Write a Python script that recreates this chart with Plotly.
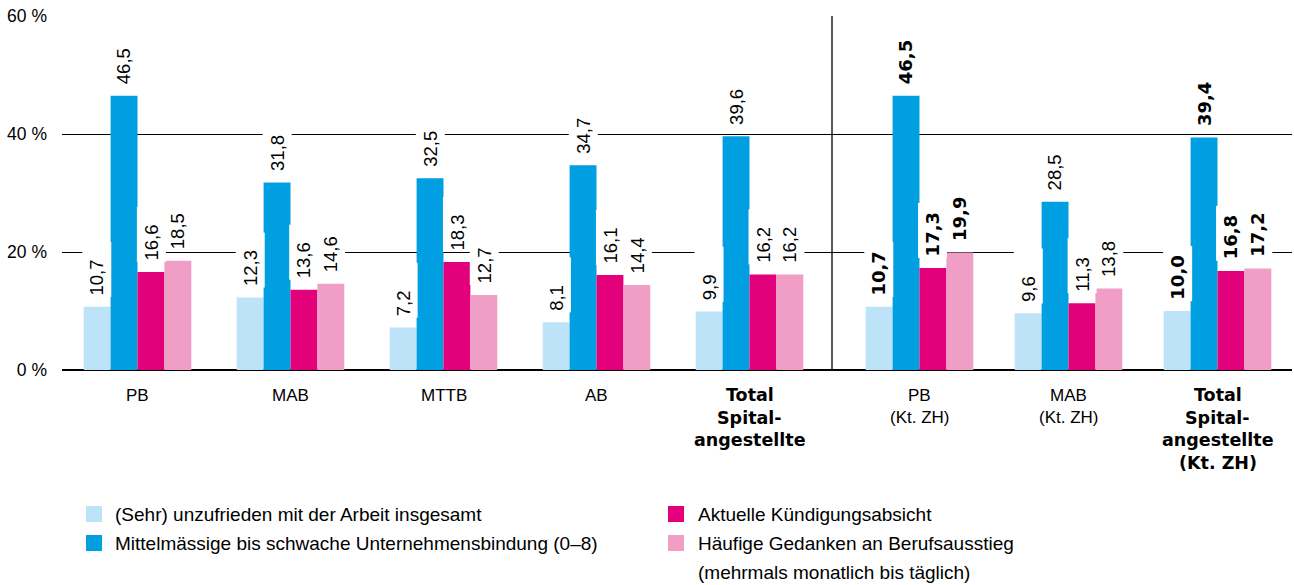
import plotly.graph_objects as go

# ---------------- data ----------------
categories = [
    ["PB"],
    ["MAB"],
    ["MTTB"],
    ["AB"],
    ["Total", "Spital-", "angestellte"],
    ["PB", "(Kt. ZH)"],
    ["MAB", "(Kt. ZH)"],
    ["Total", "Spital-", "angestellte", "(Kt. ZH)"],
]
category_bold = [False, False, False, False, True, False, False, True]
value_bold = [False, False, False, False, False, True, False, True]

series_names = [
    ["(Sehr) unzufrieden mit der Arbeit insgesamt"],
    ["Mittelmässige bis schwache Unternehmensbindung (0–8)"],
    ["Aktuelle Kündigungsabsicht"],
    ["Häufige Gedanken an Berufsausstieg", "(mehrmals monatlich bis täglich)"],
]
unzufrieden = [10.7, 12.3, 7.2, 8.1, 9.9, 10.7, 9.6, 10.0]
bindung = [46.5, 31.8, 32.5, 34.7, 39.6, 46.5, 28.5, 39.4]
kuendigung = [16.6, 13.6, 18.3, 16.1, 16.2, 17.3, 11.3, 16.8]
ausstieg = [18.5, 14.6, 12.7, 14.4, 16.2, 19.9, 13.8, 17.2]
series_values = [unzufrieden, bindung, kuendigung, ausstieg]

y_tickvals = [0, 20, 40, 60]
y_ticktext = ["0 %", "20 %", "40 %", "60 %"]

# ---------------- style ----------------
colors = ["#BDE3F8", "#009FE1", "#E3007B", "#F09EC5"]
FONT = "Liberation Sans, Arial, sans-serif"
BOLD_FONT = "DejaVu Sans, Liberation Sans, sans-serif"
W, H = 1294, 585
ML, MR, MT, MB = 62, 2, 15, 215
Y_TOP = 60.17

# group layout (units of one group step in the first section)
n_first = 5
step_a = 1.0
section_gap = 170 / 153
step_b = 149 / 153
bar_w = 26.9 / 153

positions = []
for i in range(len(categories)):
    if i < n_first:
        positions.append(i * step_a)
    else:
        positions.append((n_first - 1) * step_a + section_gap + (i - n_first) * step_b)
separator_x = positions[n_first - 1] + 82.5 / 153
x_range = [-75.5 / 153, (W - MR - ML - 75.5) / 153]

fig = go.Figure()
n_series = len(series_values)
for k, vals in enumerate(series_values):
    fig.add_trace(go.Bar(
        x=positions, y=vals,
        width=bar_w, offset=(k - n_series / 2) * bar_w,
        marker=dict(color=colors[k], line=dict(width=0)),
        name=" ".join(series_names[k]), showlegend=False,
        hoverinfo="skip",
    ))

annotations = []
# value labels
for k, vals in enumerate(series_values):
    for i, v in enumerate(vals):
        txt = f"{v:.1f}".replace(".", ",")
        if value_bold[i]:
            txt = f"<b>{txt}</b>"
            fnt = dict(family=BOLD_FONT, size=18, color="black")
        else:
            fnt = dict(family=FONT, size=18.5, color="black")
        annotations.append(dict(
            x=positions[i] + (k - n_series / 2 + 0.5) * bar_w, y=v,
            xref="x", yref="y", text=txt, showarrow=False,
            textangle=-90, xanchor="center", yanchor="bottom", yshift=9.5,
            width=52, height=26, align="left", bgcolor="white", borderpad=1,
            font=fnt,
        ))

# category labels
for i, lines in enumerate(categories):
    for j, line in enumerate(lines):
        if category_bold[i]:
            t = f"<b>{line}</b>"
            fnt = dict(family=BOLD_FONT, size=17.5, color="black")
        else:
            t = line
            fnt = dict(family=FONT, size=17, color="black")
        annotations.append(dict(
            x=positions[i], y=0, xref="x", yref="paper", text=t, showarrow=False,
            xanchor="center", yanchor="middle", yshift=-25 - 22.7 * j,
            font=fnt,
        ))

# legend (manual)
plot_w = W - ML - MR
plot_h = H - MT - MB


def px_x(px):
    return (px - ML) / plot_w


def px_y(py):
    return (H - MB - py) / plot_h


legend_cols = [(86, 113), (86, 113), (668, 696), (668, 696)]
legend_rows = [514, 543, 514, 543]
line_step = 29.5
shapes = []
for k in range(n_series):
    sx, tx = legend_cols[k]
    cy = legend_rows[k]
    shapes.append(dict(
        type="rect", xref="paper", yref="paper",
        x0=px_x(sx), x1=px_x(sx + 16), y0=px_y(cy + 8), y1=px_y(cy - 8),
        fillcolor=colors[k], line=dict(width=0),
    ))
    for j, line in enumerate(series_names[k]):
        annotations.append(dict(
            x=px_x(tx), y=px_y(cy + j * line_step), xref="paper", yref="paper",
            text=line, showarrow=False, xanchor="left", yanchor="middle",
            font=dict(family=FONT, size=19, color="black"),
        ))

# separator line
shapes.append(dict(
    type="line", xref="x", yref="paper", x0=separator_x, x1=separator_x,
    y0=0, y1=60 / Y_TOP, line=dict(color="black", width=1.3), layer="above",
))

fig.update_layout(
    width=W, height=H,
    margin=dict(l=ML, r=MR, t=MT, b=MB, autoexpand=False),
    paper_bgcolor="white", plot_bgcolor="white",
    barmode="overlay", showlegend=False,
    font=dict(family=FONT, size=16, color="black"),
    xaxis=dict(range=x_range, showgrid=False, zeroline=False,
               showticklabels=False, ticks="", fixedrange=True),
    yaxis=dict(range=[0, Y_TOP], tickvals=y_tickvals, ticktext=y_ticktext,
               showgrid=True, gridcolor="black", gridwidth=1.3,
               zeroline=True, zerolinecolor="black", zerolinewidth=2,
               ticks="", ticklabelstandoff=14, automargin=False,
               tickfont=dict(family=FONT, size=17.5, color="black")),
    annotations=annotations, shapes=shapes,
)

fig.write_html("out.html", config={"displayModeBar": False},
               post_script="document.body.style.margin='0';document.body.style.overflow='hidden';")
